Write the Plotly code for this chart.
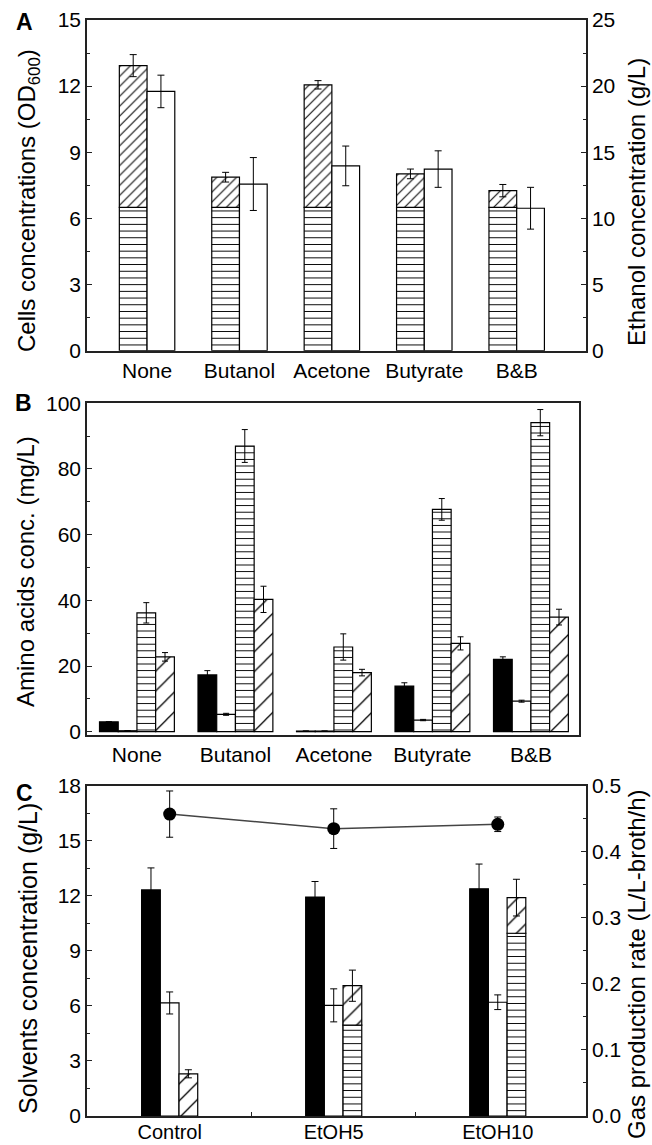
import numpy as np
import plotly.graph_objects as go

# ---------------- Panel A data ----------------
cats_a = ["None", "Butanol", "Acetone", "Butyrate", "B&B"]
cells_base = [6.5, 6.5, 6.5, 6.5, 6.5]            # horizontal-striped part (OD600)
cells_total = [12.93, 7.87, 12.06, 8.02, 7.26]      # total OD600 (hatched top)
cells_err = [0.50, 0.22, 0.19, 0.22, 0.28]
ethanol = [19.6, 12.6, 13.97, 13.73, 10.77]         # g/L, right axis
ethanol_err = [1.23, 2.0, 1.5, 1.38, 1.58]

# ---------------- Panel B data ----------------
cats_b = ["None", "Butanol", "Acetone", "Butyrate", "B&B"]
aa_black = [3.0, 17.3, 0.2, 13.9, 22.0]
aa_black_err = [0.0, 1.3, 0.0, 1.0, 0.8]
aa_white = [0.3, 5.3, 0.2, 3.55, 9.3]
aa_white_err = [0.0, 0.3, 0.0, 0.2, 0.3]
aa_horiz = [36.2, 87.0, 25.8, 67.7, 94.1]
aa_horiz_err = [3.1, 5.0, 4.0, 3.3, 4.0]
aa_diag = [22.8, 40.3, 18.0, 26.9, 34.9]
aa_diag_err = [1.3, 4.0, 1.0, 2.0, 2.4]

# ---------------- Panel C data ----------------
cats_c = ["Control", "EtOH5", "EtOH10"]
solv_black = [12.32, 11.93, 12.38]
solv_black_err = [1.2, 0.85, 1.35]
solv_white = [6.16, 6.03, 6.2]
solv_white_err = [0.6, 0.9, 0.4]
solv_base = [0.0, 4.95, 9.96]          # horizontal-striped part
solv_total = [2.3, 7.1, 11.9]          # total (hatched top)
solv_total_err = [0.22, 0.85, 1.0]
gas_rate = [0.457, 0.435, 0.4416]
gas_err = [0.035, 0.03, 0.011]

FONT = "Liberation Sans, Arial, sans-serif"
TICKF = dict(family=FONT, size=21, color="black")
LW = 1.5
LC = "#222222"

def pat(shape, size, sol=0.15):
    return dict(shape=shape, fgcolor="black", bgcolor="white", size=size,
                solidity=sol, fillmode="replace")

def err(a, w=3.5):
    return dict(type="data", array=a, color="black", thickness=1, width=w, visible=True)

fig = go.Figure()

# ---- Panel A ----
ia = np.arange(len(cats_a))
wa = 0.30
hatch_top = [t - b for t, b in zip(cells_total, cells_base)]
fig.add_bar(x=ia - wa / 2, y=cells_base, width=wa, xaxis="x", yaxis="y",
            marker=dict(color="white", line=dict(color="black", width=1.2),
                        pattern=pat("-", 6.7)), showlegend=False)
fig.add_bar(x=ia - wa / 2, y=hatch_top, base=cells_base, width=wa, xaxis="x", yaxis="y",
            error_y=err(cells_err),
            marker=dict(color="white", line=dict(color="black", width=1.2),
                        pattern=pat("/", 7)), showlegend=False)
fig.add_bar(x=ia + wa / 2, y=ethanol, width=wa, xaxis="x", yaxis="y2",
            error_y=err(ethanol_err),
            marker=dict(color="white", line=dict(color="black", width=1.2)), showlegend=False)

# ---- Panel B ----
ib = np.arange(len(cats_b))
wb = 0.19
specs_b = [
    (aa_black, aa_black_err, dict(color="black", line=dict(color="black", width=1.2))),
    (aa_white, aa_white_err, dict(color="white", line=dict(color="black", width=1.2))),
    (aa_horiz, aa_horiz_err, dict(color="white", line=dict(color="black", width=1.2), pattern=pat("-", 6.6))),
    (aa_diag, aa_diag_err, dict(color="white", line=dict(color="black", width=1.2), pattern=pat("/", 14, 0.09))),
]
for k, (vals, e, mk) in enumerate(specs_b):
    fig.add_bar(x=ib + (k - 1.5) * wb, y=vals, width=wb, xaxis="x2", yaxis="y3",
                error_y=err(e, 3), marker=mk, showlegend=False)

# ---- Panel C ----
ic = np.arange(len(cats_c))
wc = 0.114
fig.add_bar(x=ic - wc, y=solv_black, width=wc, xaxis="x3", yaxis="y4",
            error_y=err(solv_black_err),
            marker=dict(color="black", line=dict(color="black", width=1.2)), showlegend=False)
fig.add_bar(x=ic, y=solv_white, width=wc, xaxis="x3", yaxis="y4",
            error_y=err(solv_white_err),
            marker=dict(color="white", line=dict(color="black", width=1.2)), showlegend=False)
fig.add_bar(x=ic + wc, y=solv_base, width=wc, xaxis="x3", yaxis="y4",
            marker=dict(color="white", line=dict(color="black", width=1.2),
                        pattern=pat("-", 6.7)), showlegend=False)
fig.add_bar(x=ic + wc, y=[t - b for t, b in zip(solv_total, solv_base)], base=solv_base,
            width=wc, xaxis="x3", yaxis="y4", error_y=err(solv_total_err),
            marker=dict(color="white", line=dict(color="black", width=1.2),
                        pattern=pat("/", 12, 0.11)), showlegend=False)
fig.add_scatter(x=ic, y=gas_rate, xaxis="x3", yaxis="y5", mode="lines+markers",
                line=dict(color="#444444", width=1.5),
                marker=dict(color="black", size=13, symbol="circle"),
                error_y=err(gas_err), showlegend=False)

# ---- Layout ----
MINOR = dict(ticks="inside", ticklen=3, tickwidth=1.2, tickcolor=LC)

def yax(minor_dtick, **kw):
    d = dict(showline=True, linewidth=LW, linecolor=LC, ticks="inside", ticklen=5,
             tickwidth=1.2, tickcolor=LC, tickfont=TICKF, showgrid=False, zeroline=False,
             automargin=False, minor=dict(MINOR, dtick=minor_dtick))
    d.update(kw)
    return d

def xax(**kw):
    d = dict(showline=True, linewidth=LW, linecolor=LC, mirror=True, ticks="",
             tickfont=TICKF, showgrid=False, zeroline=False, automargin=False)
    d.update(kw)
    return d

PW, PH = 652, 1145
ml, mr, mt, mb = 87, 66, 20, 29
plot_h = PH - mt - mb
plot_w = PW - ml - mr

def yd(px):
    return (PH - mb - px) / plot_h

def xd(px):
    return (px - ml) / plot_w

def label(text, px, py, size=23, angle=0, bold=False):
    t = f"<b>{text}</b>" if bold else text
    return dict(text=t, x=xd(px), y=yd(py), xref="paper", yref="paper",
                showarrow=False, xanchor="center", yanchor="middle", textangle=angle,
                font=dict(family=FONT, size=size, color="black"))

fig.update_layout(
    template="none",
    width=PW, height=PH, margin=dict(l=ml, r=mr, t=mt, b=mb, pad=0),
    paper_bgcolor="white", plot_bgcolor="white", barmode="overlay",
    font=dict(family=FONT, color="black"),
    xaxis=xax(domain=[0, 1], anchor="y", range=[-0.65, 4.75],
              tickmode="array", tickvals=list(ia), ticktext=cats_a),
    yaxis=yax(1.5, domain=[yd(350.7), 1.0], anchor="x", range=[0, 15], dtick=3),
    yaxis2=yax(2.5, overlaying="y", side="right", anchor="x", range=[0, 25], dtick=5),
    xaxis2=xax(domain=[0, xd(578.8)], anchor="y3", range=[-0.507, 4.486],
               tickmode="array", tickvals=list(ib), ticktext=cats_b),
    yaxis3=yax(10, domain=[yd(735), yd(403.3)], anchor="x2", range=[-1, 100], dtick=20,
               mirror=True),
    xaxis3=xax(domain=[0, 1], anchor="y4", range=[-0.504, 2.538],
               tickmode="array", tickvals=list(ic), ticktext=cats_c,
               tickfont=dict(family=FONT, size=20, color="black"),
               ticklabelstandoff=-3,
               minor=dict(ticks="inside", ticklen=4, tickwidth=1.2, tickcolor=LC,
                          tickmode="array", tickvals=[0.5, 1.5])),
    yaxis4=yax(1.5, domain=[0, yd(785.7)], anchor="x3", range=[0, 18], dtick=3),
    yaxis5=yax(0.05, overlaying="y4", side="right", anchor="x3", range=[0, 0.5], dtick=0.1,
               tickformat=".1f"),
    annotations=[
        label("A", 24, 22, bold=True),
        label("B", 23, 403, bold=True),
        label("C", 24, 793, bold=True),
        label("Cells concentrations (OD<sub>600</sub>)", 28, 201, size=24, angle=-90),
        label("Ethanol concentration (g/L)", 636, 202, size=24, angle=-90),
        label("Amino acids conc. (mg/L)", 26, 572, size=24, angle=-90),
        label("Solvents concentration (g/L)", 28, 959, size=25, angle=-90),
        label("Gas production rate (L/L-broth/h)", 636, 964, size=24, angle=-90),
    ],
)

fig.write_html("out.html")
